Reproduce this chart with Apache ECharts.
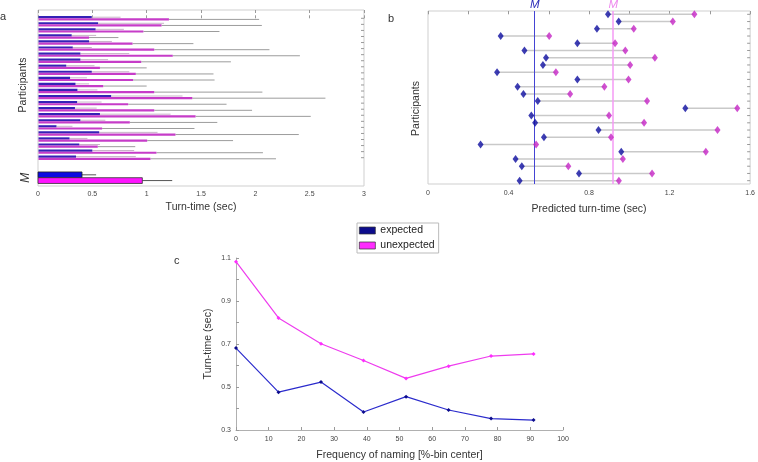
<!DOCTYPE html>
<html><head><meta charset="utf-8">
<script src="https://cdn.jsdelivr.net/npm/echarts@6/dist/echarts.min.js"></script>
<style>html,body{margin:0;padding:0;background:#fff}#c{width:758px;height:462px}</style>
</head><body><div id="c"></div><script>
// ---- Panel a: per-participant turn-times (mean and upper error) ----
const expMean    = [0.495,0.553,0.53,0.31,0.47,0.32,0.39,0.39,0.26,0.495,0.295,0.345,0.363,0.673,0.36,0.34,0.57,0.39,0.17,0.563,0.29,0.38,0.5,0.35];
const expUpper   = [0.76,1.16,0.79,0.535,0.68,0.495,0.84,0.645,0.52,0.84,0.45,0.47,0.547,1.33,0.585,0.54,1.22,0.62,0.317,1.1,0.455,0.57,0.885,0.9];
const unexpMean  = [1.205,1.137,0.97,0.47,0.87,1.07,1.24,0.95,0.57,0.9,0.875,0.6,1.07,1.42,0.83,1.07,1.45,0.845,0.59,1.265,1.005,0.55,1.09,1.035];
const unexpUpper = [2.035,2.06,1.67,0.74,1.43,2.13,2.41,1.775,1.0,1.615,1.625,1.0,2.065,2.645,1.735,1.97,2.51,1.65,1.44,2.40,1.795,0.895,2.07,2.19];
const groupMean  = [0.405, 0.535, 0.96, 1.235]; // expected mean, expected upper, unexpected mean, unexpected upper

// ---- Panel b: predicted turn-times ----
const predExp   = [0.894,0.947,0.839,0.361,0.742,0.479,0.586,0.571,0.343,0.742,0.445,0.474,0.545,1.278,0.513,0.532,0.847,0.576,0.261,0.96,0.435,0.466,0.75,0.455];
const predUnexp = [1.323,1.216,1.022,0.602,0.929,0.98,1.127,1.004,0.635,0.996,0.876,0.706,1.088,1.536,0.899,1.073,1.438,0.909,0.537,1.38,0.968,0.697,1.113,0.948];
const predMeans = [0.53, 0.924];

// ---- Panel c: turn-time by frequency of naming ----
const freqBins  = [0,13,26,39,52,65,78,91];
const expTurn   = [0.681,0.476,0.523,0.384,0.455,0.393,0.353,0.346];
const unexpTurn = [1.083,0.821,0.701,0.623,0.540,0.597,0.644,0.654];

const rows = expMean.map((_, i) => i);
const M_POS = 26.3;
const A_MAX = 3, B_MAX = 1.6;

const FONT = '"Liberation Sans", Arial, sans-serif';
const tickCol = '#9a9a9a';
const labCol = '#444';

function renderA(params, api) {
  const y = api.value(0);
  const unit = api.size([0, 1])[1];
  const base = api.coord([0, y]);
  const x0 = base[0] + 0.5, cy = base[1];
  const hB = unit * 0.36, hM = unit * 0.36;
  const bEnd = api.coord([api.value(1), y])[0];
  const bErr = api.coord([api.value(2), y])[0];
  const mEnd = api.coord([api.value(3), y])[0];
  const mErr = api.coord([api.value(4), y])[0];
  return {type: 'group', children: [
    {type: 'line', shape: {x1: bEnd, y1: cy - hB / 2, x2: bErr, y2: cy - hB / 2}, style: {stroke: '#c8b2c8', lineWidth: 1}},
    {type: 'line', shape: {x1: mEnd, y1: cy + hM / 2, x2: mErr, y2: cy + hM / 2}, style: {stroke: '#9c9c9c', lineWidth: 1}},
    {type: 'rect', shape: {x: x0, y: cy - hB, width: bEnd - x0, height: hB}, style: {fill: '#3422b6'}},
    {type: 'rect', shape: {x: x0, y: cy, width: mEnd - x0, height: hM}, style: {fill: '#c63cc8'}}
  ]};
}
function renderM(params, api) {
  const y = api.value(0);
  const unit = api.size([0, 1])[1];
  const base = api.coord([0, y]);
  const x0 = base[0], cy = base[1];
  const h = unit * 0.95;
  const bEnd = api.coord([api.value(1), y])[0];
  const bErr = api.coord([api.value(2), y])[0];
  const mEnd = api.coord([api.value(3), y])[0];
  const mErr = api.coord([api.value(4), y])[0];
  return {type: 'group', children: [
    {type: 'line', shape: {x1: bEnd, y1: cy - h / 2, x2: bErr, y2: cy - h / 2}, style: {stroke: '#555', lineWidth: 1}},
    {type: 'line', shape: {x1: mEnd, y1: cy + h / 2, x2: mErr, y2: cy + h / 2}, style: {stroke: '#555', lineWidth: 1}},
    {type: 'rect', shape: {x: x0, y: cy - h, width: bEnd - x0, height: h}, style: {fill: '#0b0be0', stroke: '#222', lineWidth: 0.8}},
    {type: 'rect', shape: {x: x0, y: cy, width: mEnd - x0, height: h}, style: {fill: '#ff14ff', stroke: '#333', lineWidth: 0.8}},
    {type: 'text', x: x0 - 12, y: cy, rotation: Math.PI / 2,
      style: {text: 'M', fill: '#333', font: 'italic 12px ' + FONT, align: 'center', verticalAlign: 'middle'}}
  ]};
}
function renderConn(params, api) {
  const y = api.value(0);
  const p1 = api.coord([api.value(1), y]);
  const p2 = api.coord([api.value(2), y]);
  return {type: 'line', shape: {x1: p1[0], y1: p1[1], x2: p2[0], y2: p2[1]}, style: {stroke: '#c9c9c9', lineWidth: 1.5}};
}
// small inward ticks on the right frame edge, one per participant row
function renderRightTick(params, api) {
  const p = api.coord([api.value(0), api.value(1)]);
  return {type: 'line', shape: {x1: p[0] - 3, y1: p[1], x2: p[0], y2: p[1]}, style: {stroke: tickCol, lineWidth: 1}};
}

const frameAxisX = (grid, pos, min, max, interval, extra) => Object.assign({
  type: 'value', gridIndex: grid, position: pos, min: min, max: max, interval: interval,
  axisLine: {show: false}, splitLine: {show: false},
  axisTick: {show: true, inside: true, length: 3, lineStyle: {color: tickCol}},
  axisLabel: {show: false}
}, extra || {});

const titleStyle = {fontSize: 11, fontWeight: 'normal', color: '#333', fontFamily: FONT};

const option = {
  animation: false,
  backgroundColor: '#fff',
  textStyle: {fontFamily: FONT},
  title: [
    {text: 'a', left: 0, top: 11, padding: 0, textStyle: titleStyle},
    {text: 'b', left: 388, top: 13, padding: 0, textStyle: titleStyle},
    {text: 'c', left: 174, top: 255, padding: 0, textStyle: titleStyle}
  ],
  legend: {
    data: ['expected', 'unexpected'],
    left: 357, top: 223, orient: 'vertical',
    icon: 'rect', itemWidth: 16, itemHeight: 7, itemGap: 4,
    padding: [2, 4, 2, 2],
    borderColor: '#bbb', borderWidth: 1, borderRadius: 0,
    itemStyle: {borderColor: '#333', borderWidth: 0.7},
    textStyle: {fontSize: 10.5, color: '#222', fontFamily: FONT}
  },
  grid: [
    {left: 38, top: 10, width: 326, height: 176, show: true, borderColor: '#cfcfcf', borderWidth: 1, backgroundColor: 'transparent'},
    {left: 428, top: 11, width: 325, height: 173, show: true, borderColor: '#cfcfcf', borderWidth: 1, backgroundColor: 'transparent'},
    {left: 236, top: 258, width: 327, height: 172}
  ],
  xAxis: [
    frameAxisX(0, 'bottom', 0, A_MAX, 0.5, {
      axisLabel: {show: true, fontSize: 7, color: labCol, margin: 5},
      name: 'Turn-time (sec)', nameLocation: 'middle', nameGap: 16,
      nameTextStyle: {fontSize: 10.5, color: '#333'}
    }),
    frameAxisX(0, 'top', 0, A_MAX, 0.5),
    frameAxisX(1, 'bottom', 0, B_MAX, 0.2, {
      axisLabel: {show: true, fontSize: 7, color: labCol, margin: 6,
        formatter: v => (Math.round(v * 10) % 4 === 0 ? String(Math.round(v * 10) / 10) : '')},
      name: 'Predicted turn-time (sec)', nameLocation: 'middle', nameGap: 20,
      nameTextStyle: {fontSize: 10.5, color: '#333'}
    }),
    frameAxisX(1, 'top', 0, B_MAX, 0.2),
    {
      type: 'value', gridIndex: 2, min: 0, max: 100, interval: 10,
      axisLine: {show: true, lineStyle: {color: '#b0b0b0'}},
      axisTick: {show: true, inside: true, length: 3, lineStyle: {color: tickCol}},
      axisLabel: {fontSize: 7, color: labCol, margin: 6},
      splitLine: {show: false},
      name: 'Frequency of naming [%-bin center]', nameLocation: 'middle', nameGap: 20,
      nameTextStyle: {fontSize: 10.5, color: '#333'}
    }
  ],
  yAxis: [
    {
      type: 'value', gridIndex: 0, inverse: true, min: -1.37, max: 27.67,
      axisLine: {show: false}, axisTick: {show: false}, splitLine: {show: false}, axisLabel: {show: false},
      name: 'Participants', nameLocation: 'middle', nameGap: 9,
      nameTextStyle: {fontSize: 10.5, color: '#333', padding: [0, 0, 0, 26]}
    },
    {
      type: 'value', gridIndex: 1, inverse: true, min: -0.46, max: 23.46,
      axisLine: {show: false}, axisTick: {show: false}, splitLine: {show: false}, axisLabel: {show: false},
      name: 'Participants', nameLocation: 'middle', nameGap: 6,
      nameTextStyle: {fontSize: 10.5, color: '#333', padding: [0, 22, 0, 0]}
    },
    {
      type: 'value', gridIndex: 2, min: 0.3, max: 1.1, interval: 0.2,
      axisLine: {show: true, lineStyle: {color: '#b0b0b0'}},
      axisTick: {show: true, inside: true, length: 3, lineStyle: {color: tickCol}},
      minorTick: {show: true, splitNumber: 2, length: 3, lineStyle: {color: tickCol}},
      axisLabel: {fontSize: 7, color: labCol, margin: 5, formatter: v => v.toFixed(1)},
      splitLine: {show: false},
      name: 'Turn-time (sec)', nameLocation: 'middle', nameGap: 22,
      nameTextStyle: {fontSize: 10.5, color: '#333'}
    }
  ],
  series: [
    {
      type: 'custom', xAxisIndex: 0, yAxisIndex: 0, renderItem: renderRightTick, silent: true,
      encode: {x: 0, y: 1},
      data: rows.map(i => [A_MAX, i])
    },
    {
      type: 'custom', xAxisIndex: 0, yAxisIndex: 0, renderItem: renderA, silent: true,
      encode: {x: [1, 2, 3, 4], y: 0},
      data: rows.map(i => [i, expMean[i], expUpper[i], unexpMean[i], unexpUpper[i]])
    },
    {
      type: 'custom', xAxisIndex: 0, yAxisIndex: 0, renderItem: renderM, silent: true, clip: false,
      encode: {x: [1, 2, 3, 4], y: 0},
      data: [[M_POS].concat(groupMean)]
    },
    {
      type: 'custom', xAxisIndex: 2, yAxisIndex: 1, renderItem: renderRightTick, silent: true,
      encode: {x: 0, y: 1},
      data: rows.map(i => [B_MAX, i])
    },
    {
      type: 'custom', xAxisIndex: 2, yAxisIndex: 1, renderItem: renderConn, silent: true, z: 1,
      encode: {x: [1, 2], y: 0},
      data: rows.map(i => [i, predExp[i], predUnexp[i]])
    },
    {
      type: 'scatter', xAxisIndex: 2, yAxisIndex: 1, symbol: 'diamond', symbolSize: [6, 8], z: 5,
      itemStyle: {color: '#0d0d9f'}, silent: true,
      data: rows.map(i => [predExp[i], i]),
      markLine: {
        silent: true, symbol: ['none', 'none'], z: 2,
        lineStyle: {color: '#4444d4', width: 1, type: 'solid'},
        label: {show: true, position: 'start', formatter: 'M', distance: 0, fontSize: 11.5, fontStyle: 'italic', color: '#2a2ab8', fontFamily: FONT},
        data: [{xAxis: predMeans[0]}]
      }
    },
    {
      type: 'scatter', xAxisIndex: 2, yAxisIndex: 1, symbol: 'diamond', symbolSize: [6, 8], z: 5,
      itemStyle: {color: '#c424c4'}, silent: true,
      data: rows.map(i => [predUnexp[i], i]),
      markLine: {
        silent: true, symbol: ['none', 'none'], z: 2,
        lineStyle: {color: '#f49af4', width: 1.5, type: 'solid'},
        label: {show: true, position: 'start', formatter: 'M', distance: 0, fontSize: 11.5, fontStyle: 'italic', color: '#ee88ee', fontFamily: FONT},
        data: [{xAxis: predMeans[1]}]
      }
    },
    {
      name: 'expected', type: 'line', xAxisIndex: 4, yAxisIndex: 2,
      symbol: 'diamond', symbolSize: 4, showSymbol: true,
      itemStyle: {color: '#0c0c8c'}, lineStyle: {color: '#2b2bcc', width: 1.2},
      data: freqBins.map((x, i) => [x, expTurn[i]])
    },
    {
      name: 'unexpected', type: 'line', xAxisIndex: 4, yAxisIndex: 2,
      symbol: 'diamond', symbolSize: 4, showSymbol: true,
      itemStyle: {color: '#ff2cff'}, lineStyle: {color: '#ee3cee', width: 1.2},
      data: freqBins.map((x, i) => [x, unexpTurn[i]])
    }
  ]
};
const chart = echarts.init(document.getElementById('c'));
chart.setOption(option);
</script></body></html>
